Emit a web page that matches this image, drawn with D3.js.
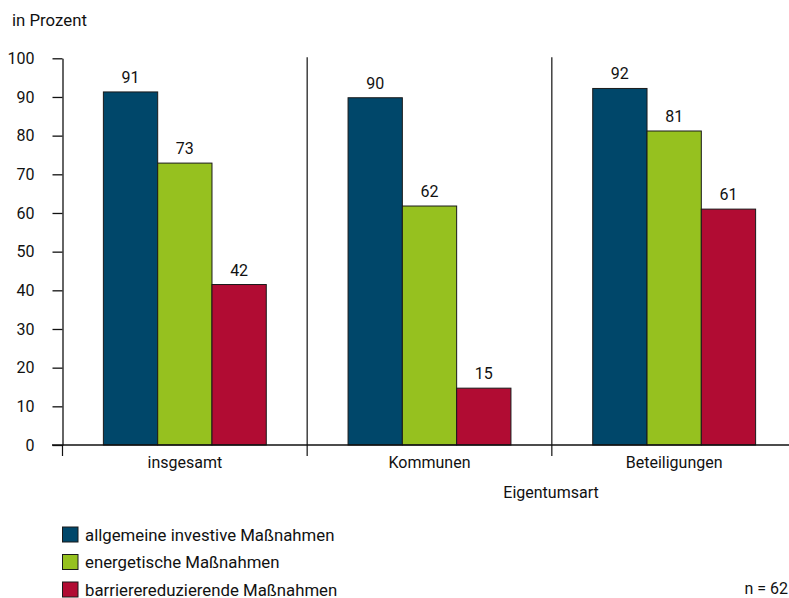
<!DOCTYPE html>
<html><head><meta charset="utf-8">
<script src="https://cdn.jsdelivr.net/npm/d3@7"></script>
<style>
html,body{margin:0;padding:0;background:#fff;}
svg{display:block;font-family:Roboto,"Noto Sans",sans-serif;}
</style></head>
<body>
<svg id="chart" width="789" height="598"></svg>
<script>
const categories = ["insgesamt", "Kommunen", "Beteiligungen"];
const seriesNames = ["allgemeine investive Maßnahmen", "energetische Maßnahmen", "barrierereduzierende Maßnahmen"];
const allgemeine = [91.3, 89.8, 92.2];
const energetisch = [72.9, 61.8, 81.2];
const barriere = [41.5, 14.7, 61.0];
const yTicks = [0, 10, 20, 30, 40, 50, 60, 70, 80, 90, 100];
const colors = ["#00476a", "#96c11f", "#b10c33"];

const seriesValues = [allgemeine, energetisch, barriere];
const svg = d3.select("#chart");
const fontSize = 16;
const textSize = 16.8;

const y = d3.scaleLinear().domain([0, 100]).range([445, 58.3]);
const x0 = d3.scaleBand().domain(categories).range([62.5, 796.5]).padding(0);
const x1 = d3.scaleBand().domain(seriesNames).range([0, x0.bandwidth()]).paddingInner(0).paddingOuter(0.753);

// y axis
const yAxis = svg.append("g").attr("transform", "translate(62.5,0)")
  .call(d3.axisLeft(y).tickValues(yTicks).tickSize(10).tickSizeOuter(0).tickPadding(18));
yAxis.select(".domain").attr("stroke", "#111").attr("stroke-width", 1.3);
yAxis.selectAll(".tick line").attr("stroke", "#111").attr("stroke-width", 1.3);
yAxis.selectAll(".tick text").attr("font-size", fontSize).attr("fill", "#111").attr("font-family", "Roboto");

// separators
svg.selectAll("line.sep").data(categories.slice(1)).enter().append("line")
  .attr("class", "sep")
  .attr("x1", d => x0(d)).attr("x2", d => x0(d))
  .attr("y1", y(100) - 1).attr("y2", y(0))
  .attr("stroke", "#111").attr("stroke-width", 1.2);

// bars
const groups = svg.selectAll("g.grp").data(categories).enter().append("g")
  .attr("class", "grp").attr("transform", d => `translate(${x0(d)},0)`);
groups.each(function(cat, ci) {
  const g = d3.select(this);
  seriesNames.forEach((s, si) => {
    const v = seriesValues[si][ci];
    g.append("rect")
      .attr("x", x1(s)).attr("width", x1.bandwidth())
      .attr("y", y(v)).attr("height", y(0) - y(v))
      .attr("fill", colors[si]).attr("stroke", "#1a1a1a").attr("stroke-width", 1);
    g.append("text")
      .attr("x", x1(s) + x1.bandwidth() / 2).attr("y", y(v) - 9)
      .attr("text-anchor", "middle").attr("font-size", fontSize).attr("fill", "#111")
      .text(Math.round(v));
  });
});

// x axis
svg.append("line").attr("x1", 52).attr("x2", 789).attr("y1", y(0)).attr("y2", y(0))
  .attr("stroke", "#111").attr("stroke-width", 1.5);
const tickXs = categories.map(c => x0(c)).concat([x0(categories[categories.length - 1]) + x0.bandwidth()]);
svg.selectAll("line.xt").data(tickXs).enter().append("line")
  .attr("x1", d => d).attr("x2", d => d).attr("y1", y(0)).attr("y2", y(0) + 11)
  .attr("stroke", "#111").attr("stroke-width", 1.2);
svg.selectAll("text.xl").data(categories).enter().append("text")
  .attr("x", d => x0(d) + x0.bandwidth() / 2).attr("y", 468)
  .attr("text-anchor", "middle").attr("font-size", fontSize).attr("fill", "#111")
  .text(d => d);

// titles
svg.append("text").attr("x", 12).attr("y", 26).attr("font-size", textSize).attr("fill", "#111").text("in Prozent");
svg.append("text").attr("x", 551).attr("y", 498).attr("text-anchor", "middle").attr("font-size", fontSize).attr("fill", "#111").text("Eigentumsart");
svg.append("text").attr("x", 788).attr("y", 594).attr("text-anchor", "end").attr("font-size", fontSize).attr("fill", "#111").text("n = 62");

// legend
const legend = svg.selectAll("g.leg").data(seriesNames).enter().append("g")
  .attr("class", "leg").attr("transform", (d, i) => `translate(62.5,${527 + i * 27.5})`);
legend.append("rect").attr("width", 15.5).attr("height", 15)
  .attr("fill", (d, i) => colors[i]).attr("stroke", "#1a1a1a").attr("stroke-width", 1);
legend.append("text").attr("x", 22.5).attr("y", 13.5).attr("font-size", textSize).attr("fill", "#111")
  .text(d => d);
</script>
</body></html>
